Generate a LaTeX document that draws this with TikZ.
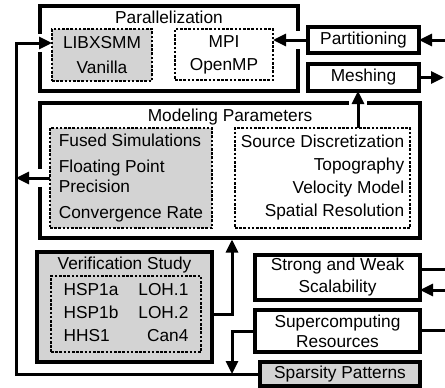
\documentclass[tikz,border=0pt]{standalone}
\usepackage{fontspec}
\setmainfont{Liberation Sans}
\usetikzlibrary{arrows.meta,calc}
\definecolor{boxgray}{RGB}{211,211,211}
\begin{document}
\begin{tikzpicture}[x=1pt,y=-1pt,
 every node/.style={font=\fontsize{17.3}{22}\selectfont, inner sep=0pt, outer sep=0pt},
 solidbox/.style={draw, line width=3.3pt},
 dotbox/.style={draw, line width=2.8pt, dash pattern=on 2.6pt off 1.6pt},
 shaded/.style={fill=boxgray},
 conn/.style={line width=3pt},
 arr/.style={conn, -{Triangle[length=13pt,width=12pt]}},
 halo/.style={preaction={draw=white,line width=18pt,-,shorten >=3pt,shorten <=3pt}},
]
\useasboundingbox (0,0) rectangle (445,388);

% Parallelization
\node[solidbox, minimum width=258, minimum height=85] (par) at (169,48.5) {};
\node (partitle) at (169,17) {Parallelization};
\node[dotbox, shaded, minimum width=100, minimum height=52, align=center] (libx) at (102,55) {LIBXSMM\\[3pt]Vanilla};
\node[dotbox, minimum width=98, minimum height=51, align=center] (mpi) at (224,54.5) {MPI\\[1pt]OpenMP};

\node[solidbox, minimum width=111, minimum height=26] (part) at (363.5,40) {Partitioning};
\node[solidbox, minimum width=111, minimum height=27] (mesh) at (363.5,77.5) {Meshing};

% Modeling parameters
\node[solidbox, minimum width=380, minimum height=135] (model) at (230,170.5) {};
\node (modeltitle) at (230,117) {Modeling Parameters};
\node[dotbox, shaded, minimum width=162, minimum height=100, align=left] (fused) at (131,178)
  {Fused Simulations\\[4pt]Floating Point\\[-2.5pt]Precision\\[4pt]Convergence Rate};
\node[dotbox, minimum width=175, minimum height=100, align=right] (src) at (322.5,178)
  {Source Discretization\\[1pt]Topography\\[1pt]Velocity Model\\[1pt]Spatial Resolution};

% Verification
\node[solidbox, shaded, minimum width=175, minimum height=110] (verif) at (124.5,307) {};
\node (veriftitle) at (124.5,265) {Verification Study};
\node[dotbox, minimum width=150, minimum height=76] (verifin) at (126,314)
  {\begin{tabular}{@{}l@{\hspace{20pt}}r@{}}HSP1a & LOH.1\\[1pt] HSP1b & LOH.2\\[1pt] HHS1 & Can4\end{tabular}};

% Right column
\node[solidbox, minimum width=165, minimum height=45, align=center] (strong) at (337.5,277.5) {Strong and Weak\\Scalability};
\node[solidbox, minimum width=165, minimum height=42, align=center] (super) at (337.5,331) {Supercomputing\\[-2pt]Resources};
\node[solidbox, shaded, minimum width=160, minimum height=24] (sparse) at (340,374) {Sparsity Patterns};

% coordinates
\coordinate (pin) at (445,40);
\coordinate (mout) at (444,77.5);
\coordinate (lc) at (16,374);
\coordinate (jx) at (232,0);
\coordinate (sout) at (445,269);
\coordinate (sin) at (445,290);
\coordinate (supout) at (445,330);
\coordinate (libin) at ($(libx.west)+(0,-12)$);
\coordinate (srctop) at ($(src.north)+(35.5,0)$);
\coordinate (vout) at ($(verif.east)+(0,7)$);

% connectors
\draw[arr] (pin) -- (part.east);
\draw[arr,halo] (part.west) -- (mpi.east |- part.west);
\draw[arr] (mesh.east) -- (mout);
\draw[arr,halo] (srctop) -- (srctop |- mesh.south);
\draw[arr,halo] (sparse.west) -- (sparse.west -| lc) |- (libin);
\draw[arr,halo] (fused.west) -- (fused.west -| lc);
\draw[arr] (super.west) -- (super.west -| jx) -- (jx |- sparse.west);
\draw[arr] (vout) -- (vout -| jx) -- ($(jx |- model.south)+(0,1.5)$);
\draw[conn] (strong.east |- sout) -- (sout);
\draw[arr] (sin) -- (sin -| strong.east);
\draw[conn] (supout -| super.east) -- (supout);
\end{tikzpicture}
\end{document}
